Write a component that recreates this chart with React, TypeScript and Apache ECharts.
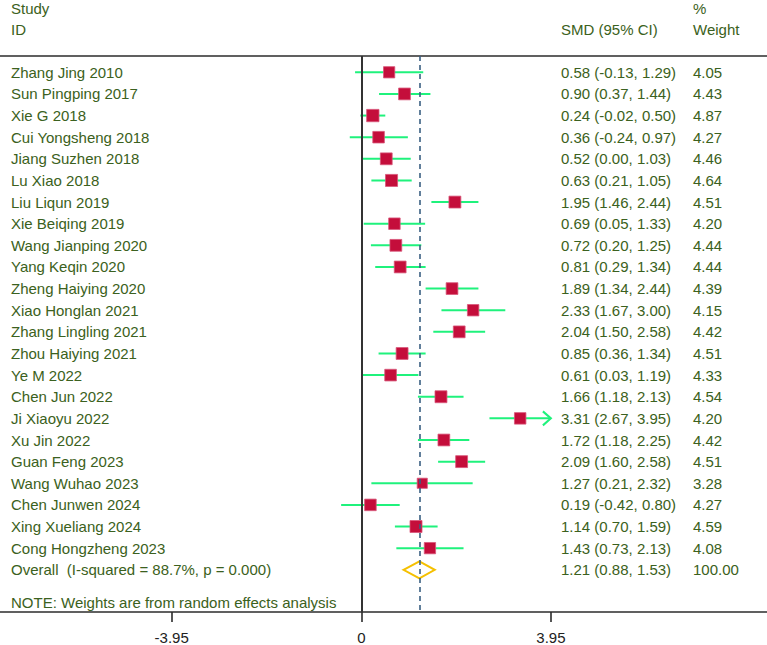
import React, { useEffect, useRef } from "react";
import * as echarts from "echarts";

// Study-level results: standardized mean difference with 95% CI and random-effects weight
const studies = [
  "Zhang Jing 2010",
  "Sun Pingping 2017",
  "Xie G 2018",
  "Cui Yongsheng 2018",
  "Jiang Suzhen 2018",
  "Lu Xiao 2018",
  "Liu Liqun 2019",
  "Xie Beiqing 2019",
  "Wang Jianping 2020",
  "Yang Keqin 2020",
  "Zheng Haiying 2020",
  "Xiao Honglan 2021",
  "Zhang Lingling 2021",
  "Zhou Haiying 2021",
  "Ye M 2022",
  "Chen Jun 2022",
  "Ji Xiaoyu 2022",
  "Xu Jin 2022",
  "Guan Feng 2023",
  "Wang Wuhao 2023",
  "Chen Junwen 2024",
  "Xing Xueliang 2024",
  "Cong Hongzheng 2023",
];
const smd = [
  0.58, 0.9, 0.24, 0.36, 0.52, 0.63, 1.95, 0.69, 0.72, 0.81, 1.89, 2.33, 2.04,
  0.85, 0.61, 1.66, 3.31, 1.72, 2.09, 1.27, 0.19, 1.14, 1.43,
];
const ciLower = [
  -0.13, 0.37, -0.02, -0.24, 0.0, 0.21, 1.46, 0.05, 0.2, 0.29, 1.34, 1.67, 1.5,
  0.36, 0.03, 1.18, 2.67, 1.18, 1.6, 0.21, -0.42, 0.7, 0.73,
];
const ciUpper = [
  1.29, 1.44, 0.5, 0.97, 1.03, 1.05, 2.44, 1.33, 1.25, 1.34, 2.44, 3.0, 2.58,
  1.34, 1.19, 2.13, 3.95, 2.25, 2.58, 2.32, 0.8, 1.59, 2.13,
];
const weights = [
  4.05, 4.43, 4.87, 4.27, 4.46, 4.64, 4.51, 4.2, 4.44, 4.44, 4.39, 4.15, 4.42,
  4.51, 4.33, 4.54, 4.2, 4.42, 4.51, 3.28, 4.27, 4.59, 4.08,
];

// Pooled estimate
const overallLabel = "Overall  (I-squared = 88.7%, p = 0.000)";
const overallEstimate = [1.21, 0.88, 1.53]; // SMD, lower, upper
const overallWeight = 100.0;

const noteText = "NOTE: Weights are from random effects analysis";
const tickValues = [-3.95, 0, 3.95];
const plotLimit = 3.95;

const TEXT_COLOR = "#3b6120";
const FONT = '"Liberation Sans", Arial, sans-serif';
const FONT_SIZE = 15;

const fmt = (v: number) => v.toFixed(2);

export default function App() {
  const ref = useRef<HTMLDivElement>(null);

  useEffect(() => {
    if (!ref.current) return;
    const chart = echarts.init(ref.current, null, { renderer: "svg" });

    const nRows = studies.length;
    const overallRow = nRows;
    const noteRow = nRows + 1.5;

    const studyData = studies.map((_, i) => [i, smd[i], ciLower[i], ciUpper[i], weights[i]]);
    const textData = studies
      .map((name, i) => [
        i,
        name,
        `${fmt(smd[i])} (${fmt(ciLower[i])}, ${fmt(ciUpper[i])})`,
        fmt(weights[i]),
      ])
      .concat([
        [
          overallRow,
          overallLabel,
          `${fmt(overallEstimate[0])} (${fmt(overallEstimate[1])}, ${fmt(overallEstimate[2])})`,
          fmt(overallWeight),
        ],
        [noteRow, noteText, "", ""],
      ]);

    const textStyle = (text: string, x: number, y: number) => ({
      type: "text",
      x,
      y,
      style: {
        text,
        fill: TEXT_COLOR,
        font: `${FONT_SIZE}px ${FONT}`,
        textVerticalAlign: "middle",
        verticalAlign: "middle",
        align: "left",
      },
    });

    const option: any = {
      animation: false,
      backgroundColor: "#ffffff",
      grid: { left: 0, right: 0, top: 56, bottom: 33, containLabel: false },
      xAxis: [
        {
          type: "value",
          min: -7.527,
          max: 8.452,
          position: "bottom",
          splitLine: { show: false },
          axisLine: { show: true, onZero: false, lineStyle: { color: "#2b2b2b", width: 1.6 } },
          axisTick: {
            show: true,
            customValues: tickValues,
            length: 10,
            lineStyle: { color: "#2b2b2b", width: 1.6 },
          },
          axisLabel: {
            show: true,
            customValues: tickValues,
            margin: 18,
            color: "#222222",
            fontSize: FONT_SIZE,
            fontFamily: FONT,
            formatter: (v: number) => (v === 0 ? "0" : v.toFixed(2)),
          },
        },
        {
          type: "value",
          min: -7.527,
          max: 8.452,
          position: "top",
          splitLine: { show: false },
          axisLine: { show: true, onZero: false, lineStyle: { color: "#2b2b2b", width: 1.6 } },
          axisTick: { show: false },
          axisLabel: { show: false },
        },
      ],
      yAxis: {
        type: "value",
        inverse: true,
        min: -0.7536,
        max: 24.952,
        show: false,
      },
      graphic: [
        textStyle("Study", 11, 8),
        textStyle("ID", 11, 29),
        textStyle("SMD (95% CI)", 561, 29),
        textStyle("%", 693, 8),
        textStyle("Weight", 693, 29),
      ],
      series: [
        {
          // reference lines: null effect and pooled estimate
          type: "custom",
          z: 1,
          data: [],
          renderItem: () => null,
          markLine: {
            silent: true,
            symbol: "none",
            label: { show: false },
            data: [
              { xAxis: 0, lineStyle: { color: "#333333", width: 2, type: "solid" } },
              {
                xAxis: overallEstimate[0],
                lineStyle: { color: "#3a5f82", width: 1.6, type: [5, 4] },
              },
            ],
          },
        },
        {
          type: "custom",
          z: 3,
          data: studyData,
          encode: { x: [1, 2, 3], y: 0 },
          renderItem: (params: any, api: any) => {
            const row = api.value(0);
            const est = api.value(1);
            const lo = api.value(2);
            const hi = api.value(3);
            const w = api.value(4);
            const [xe, y] = api.coord([est, row]);
            const xl = api.coord([lo, row])[0];
            const xh = api.coord([Math.min(hi, plotLimit), row])[0];
            const side = 5.6 * Math.sqrt(w);
            const children: any[] = [
              {
                type: "line",
                shape: { x1: xl, y1: y, x2: xh, y2: y },
                style: { stroke: "#1ff27c", lineWidth: 2 },
              },
            ];
            if (hi >= plotLimit) {
              children.push({
                type: "polyline",
                shape: {
                  points: [
                    [xh - 8, y - 7],
                    [xh, y],
                    [xh - 8, y + 7],
                  ],
                },
                style: { stroke: "#1ff27c", lineWidth: 2, fill: "none" },
              });
            }
            children.push({
              type: "rect",
              shape: { x: xe - side / 2, y: y - side / 2, width: side, height: side },
              style: { fill: "#c40e3b", stroke: "#d8577a", lineWidth: 0.8 },
            });
            return { type: "group", children };
          },
        },
        {
          // pooled diamond
          type: "custom",
          z: 3,
          data: [[overallRow, ...overallEstimate]],
          encode: { x: [1, 2, 3], y: 0 },
          renderItem: (params: any, api: any) => {
            const row = api.value(0);
            const [xe, y] = api.coord([api.value(1), row]);
            const xl = api.coord([api.value(2), row])[0];
            const xh = api.coord([api.value(3), row])[0];
            const h = 8.5;
            return {
              type: "polygon",
              shape: {
                points: [
                  [xl, y],
                  [xe, y - h],
                  [xh, y],
                  [xe, y + h],
                ],
              },
              style: { fill: "none", stroke: "#f5c000", lineWidth: 2 },
            };
          },
        },
        {
          // study labels, effect sizes and weights
          type: "custom",
          z: 4,
          data: textData,
          encode: { y: 0 },
          renderItem: (params: any, api: any) => {
            const item = textData[params.dataIndex];
            const y = api.coord([0, item[0] as number])[1];
            return {
              type: "group",
              children: [
                textStyle(String(item[1]), 11, y),
                textStyle(String(item[2]), 561, y),
                textStyle(String(item[3]), 693, y),
              ],
            };
          },
        },
      ],
    };

    chart.setOption(option);
    return () => chart.dispose();
  }, []);

  return (
    <div
      ref={ref}
      style={{ position: "fixed", left: 0, top: 0, width: 767, height: 645, background: "#fff" }}
    />
  );
}
